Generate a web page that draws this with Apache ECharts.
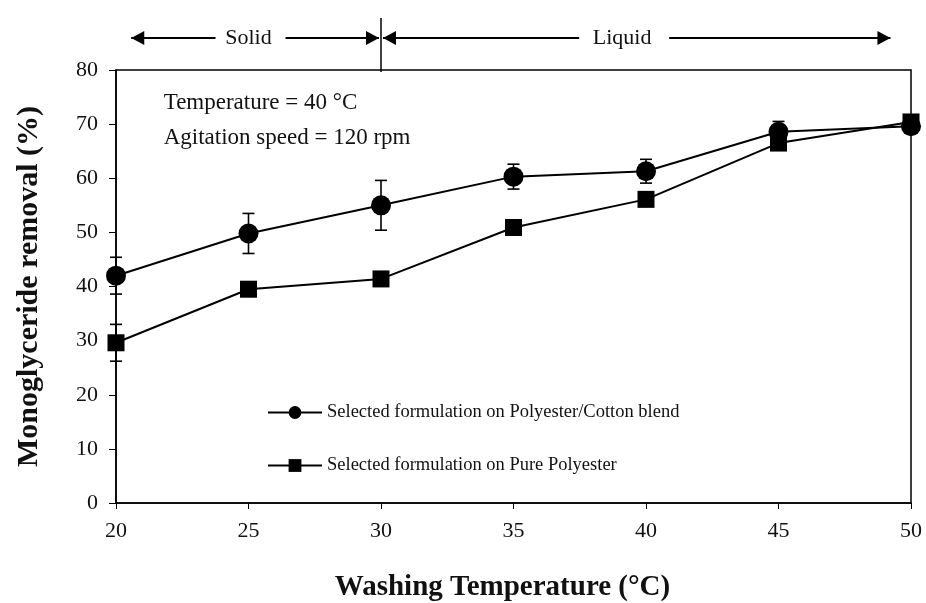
<!DOCTYPE html>
<html><head><meta charset="utf-8">
<script src="https://cdn.jsdelivr.net/npm/echarts@6/dist/echarts.min.js"></script>
<style>html,body{margin:0;padding:0;background:#fff}#c{width:926px;height:603px}</style>
</head><body><div id="c"></div>
<script>
var temps = [20, 25, 30, 35, 40, 45, 50];
var blendName = 'Selected formulation on Polyester/Cotton blend';
var pureName = 'Selected formulation on Pure Polyester';
var blendVals = [42.0, 49.8, 55.0, 60.3, 61.3, 68.6, 69.6];
var blendErr  = [3.4, 3.7, 4.6, 2.3, 2.2, 1.9, 1.0];
var pureVals  = [29.6, 39.5, 41.4, 50.9, 56.1, 66.5, 70.4];
var pureErr   = [3.4, 1.3, 0.8, 0.8, 0.8, 0.8, 0.8];
var yTicks = [0, 10, 20, 30, 40, 50, 60, 70, 80];
var xTicks = [20, 25, 30, 35, 40, 45, 50];
var solidRange = [20.5, 30];
var liquidRange = [30, 49.3];
var solidLabelAt = 25.0;
var liquidLabelAt = 39.1;
var phaseBoundary = 30;

var FONT = "'Liberation Serif','Times New Roman',serif";
var chart = echarts.init(document.getElementById('c'));

function errData(vals, errs) {
  return temps.map(function (t, i) { return [t, vals[i] - errs[i], vals[i] + errs[i]]; });
}
function errRender(params, api) {
  var x = api.value(0);
  var lo = api.coord([x, api.value(1)]);
  var hi = api.coord([x, api.value(2)]);
  var w = 6;
  var st = { stroke: '#000', lineWidth: 1.6 };
  return { type: 'group', children: [
    { type: 'line', shape: { x1: lo[0], y1: lo[1], x2: hi[0], y2: hi[1] }, style: st },
    { type: 'line', shape: { x1: lo[0] - w, y1: lo[1], x2: lo[0] + w, y2: lo[1] }, style: st },
    { type: 'line', shape: { x1: hi[0] - w, y1: hi[1], x2: hi[0] + w, y2: hi[1] }, style: st }
  ]};
}

var option = {
  animation: false,
  backgroundColor: '#fff',
  grid: { left: 116, right: 15, top: 70, bottom: 100, outerBoundsMode: 'none', containLabel: false,
    show: true, borderColor: '#000', borderWidth: 1.5, backgroundColor: 'transparent' },
  legend: {
    data: [blendName, pureName], orient: 'vertical', left: 262, top: 398, itemGap: 34,
    itemWidth: 54, itemHeight: 16, textStyle: { fontFamily: FONT, fontSize: 18.5, color: '#111' }
  },
  xAxis: {
    type: 'value', min: xTicks[0], max: xTicks[xTicks.length - 1], interval: 5,
    name: 'Washing Temperature (°C)', nameLocation: 'middle', nameGap: 70,
    nameTextStyle: { fontFamily: FONT, fontSize: 29, fontWeight: 'bold', color: '#111', padding: [0, 22, 0, 0] },
    axisLine: { lineStyle: { color: '#000', width: 1.5 } },
    axisTick: { show: true, inside: false, length: 6, lineStyle: { color: '#000' } },
    axisLabel: { fontFamily: FONT, fontSize: 22, color: '#111', margin: 17 },
    splitLine: { show: false }
  },
  yAxis: {
    type: 'value', min: yTicks[0], max: yTicks[yTicks.length - 1], interval: 10,
    name: 'Monoglyceride removal (%)', nameLocation: 'middle', nameGap: 72,
    nameTextStyle: { fontFamily: FONT, fontSize: 30, fontWeight: 'bold', color: '#111' },
    axisLine: { show: true, lineStyle: { color: '#000', width: 1.5 } },
    axisTick: { show: true, inside: false, length: 7, lineStyle: { color: '#000' } },
    axisLabel: { fontFamily: FONT, fontSize: 22, color: '#111', margin: 18 },
    splitLine: { show: false }
  },
  series: [
    { type: 'custom', name: 'blendErr', renderItem: errRender, data: errData(blendVals, blendErr), z: 1, encode: { x: 0, y: [1, 2] } },
    { type: 'custom', name: 'pureErr', renderItem: errRender, data: errData(pureVals, pureErr), z: 1, encode: { x: 0, y: [1, 2] } },
    { type: 'line', name: pureName, data: temps.map(function (t, i) { return [t, pureVals[i]]; }),
      symbol: 'rect', symbolSize: 17, lineStyle: { color: '#000', width: 2 }, itemStyle: { color: '#000' }, z: 3 },
    { type: 'line', name: blendName, data: temps.map(function (t, i) { return [t, blendVals[i]]; }),
      symbol: 'circle', symbolSize: 20, lineStyle: { color: '#000', width: 2 }, itemStyle: { color: '#000' }, z: 4 }
  ],
  graphic: []
};
chart.setOption(option);

function px(v) { return chart.convertToPixel({ xAxisIndex: 0 }, v); }
var arrowY = 38;
function arrowHead(x, dir) {
  return { type: 'polygon', shape: { points: [[x, arrowY], [x - dir * 13, arrowY - 7], [x - dir * 13, arrowY + 7]] }, style: { fill: '#000' } };
}
var g = [];
function addRange(r, labelAt, label, textW) {
  var x1 = px(r[0]) + 2, x2 = px(r[1]) - 2;
  var cx = px(labelAt);
  g.push({ type: 'line', shape: { x1: x1, y1: arrowY, x2: cx - textW / 2 - 6, y2: arrowY }, style: { stroke: '#000', lineWidth: 1.8 } });
  g.push({ type: 'line', shape: { x1: cx + textW / 2 + 10, y1: arrowY, x2: x2, y2: arrowY }, style: { stroke: '#000', lineWidth: 1.8 } });
  g.push(arrowHead(x1, -1));
  g.push(arrowHead(x2, 1));
  g.push({ type: 'text', x: cx, y: arrowY, style: { text: label, fontFamily: FONT, fontSize: 22, fill: '#111', align: 'center', verticalAlign: 'middle' } });
}
addRange(solidRange, solidLabelAt, 'Solid', 54);
addRange(liquidRange, liquidLabelAt, 'Liquid', 74);
var divX = px(phaseBoundary);
g.push({ type: 'line', shape: { x1: divX, y1: 18, x2: divX, y2: 72 }, style: { stroke: '#000', lineWidth: 1.5 } });
var annX = px(21.8);
g.push({ type: 'text', x: annX, y: 103, style: { text: 'Temperature = 40 °C', fontFamily: FONT, fontSize: 23, fill: '#111', verticalAlign: 'middle' } });
g.push({ type: 'text', x: annX, y: 138, style: { text: 'Agitation speed = 120 rpm', fontFamily: FONT, fontSize: 23, fill: '#111', verticalAlign: 'middle' } });
chart.setOption({ graphic: g });
</script></body></html>
